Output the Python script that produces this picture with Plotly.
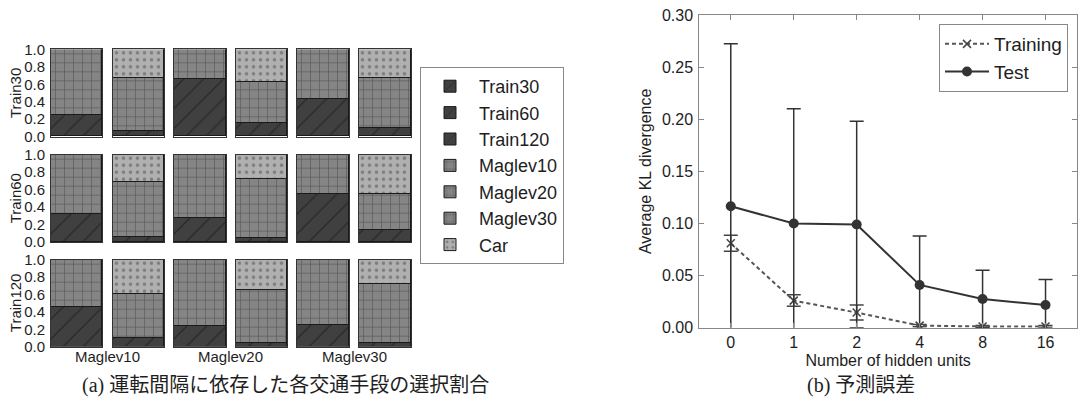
import plotly.graph_objects as go

# ---------------- data: panel (a) ----------------
rows = ["Train30", "Train60", "Train120"]
maglevs = ["Maglev10", "Maglev20", "Maglev30"]

# columns without car: train share / maglev share  (rows x maglev)
train_nocar = [[0.244, 0.66, 0.427],
               [0.32, 0.28, 0.55],
               [0.464, 0.24, 0.257]]
maglev_nocar = [[0.756, 0.34, 0.573],
                [0.68, 0.72, 0.45],
                [0.536, 0.76, 0.743]]
# columns with car: train / maglev / car shares
train_car = [[0.065, 0.156, 0.095],
             [0.065, 0.053, 0.137],
             [0.10, 0.042, 0.042]]
maglev_car = [[0.603, 0.464, 0.573],
              [0.63, 0.667, 0.42],
              [0.51, 0.618, 0.686]]
car_car = [[0.332, 0.38, 0.332],
           [0.305, 0.28, 0.443],
           [0.39, 0.34, 0.272]]
share_ticks = [0.0, 0.2, 0.4, 0.6, 0.8, 1.0]

# ---------------- data: panel (b) ----------------
hidden_units = ["0", "1", "2", "4", "8", "16"]
train_mean = [0.081, 0.026, 0.0145, 0.002, 0.0012, 0.0012]
train_err = [0.0077, 0.0055, 0.0072, 0.001, 0.0008, 0.001]
test_mean = [0.1165, 0.100, 0.099, 0.041, 0.0275, 0.0218]
test_err = [0.156, 0.110, 0.099, 0.047, 0.0275, 0.0245]
kl_ticks = [0.0, 0.05, 0.10, 0.15, 0.20, 0.25, 0.30]

# ---------------- layout geometry ----------------
W, H = 1081, 403
col_px = [(51, 102), (113, 164), (174, 226), (236, 287), (297, 349), (359, 411)]
row_px = [(49.3, 136.7), (154.7, 242.0), (259.7, 346.7)]

SANS = "Liberation Sans, Arial, sans-serif"
SERIF = "Liberation Serif, Noto Sans CJK JP, serif"
DARK = "#404040"
MID = "#858585"
LIGHT = "#b0b0b0"
EDGE = "#1a1a1a"
TXT = "#1e1e1e"

fig = go.Figure()
layout = {}


def xd(a, b):
    return [a / W, b / W]


def yd(top, bot):
    return [1 - bot / H, 1 - top / H]


train_pat = dict(shape="/", fgcolor="#111111", size=14, solidity=0.09, fillmode="overlay")
mag_pat = dict(shape="+", fgcolor="#2a2a2a", size=9, solidity=0.14, fillmode="overlay")
car_pat = dict(shape=".", fgcolor="#4a4a4a", size=7, solidity=0.2, fillmode="overlay")

legend_shown = set()
rank = {"Train30": 1, "Train60": 2, "Train120": 3, "Maglev10": 4, "Maglev20": 5,
        "Maglev30": 6, "Car": 7}

idx = 0
for r, rname in enumerate(rows):
    for c in range(6):
        idx += 1
        sfx = "" if idx == 1 else str(idx)
        m = c // 2
        with_car = (c % 2 == 1)
        if with_car:
            parts = [(rname, train_car[r][m], DARK, train_pat),
                     (maglevs[m], maglev_car[r][m], MID, mag_pat),
                     ("Car", car_car[r][m], LIGHT, car_pat)]
        else:
            parts = [(rname, train_nocar[r][m], DARK, train_pat),
                     (maglevs[m], maglev_nocar[r][m], MID, mag_pat)]
        for name, val, col, pat in parts:
            show = name not in legend_shown
            legend_shown.add(name)
            fig.add_trace(go.Bar(
                x=[0], y=[val], width=[1.0], name=name,
                marker=dict(color=col, pattern=pat, line=dict(color=EDGE, width=1)),
                xaxis="x" + sfx, yaxis="y" + sfx, showlegend=show,
                legendrank=rank[name], legend="legend", hoverinfo="skip"))
        layout["xaxis" + sfx] = dict(
            domain=xd(*col_px[c]), range=[-0.5, 0.5], showticklabels=False,
            ticks="", showgrid=False, zeroline=False, showline=True, mirror=True,
            linecolor="#333333", linewidth=1, anchor="y" + sfx, fixedrange=True,
            automargin=False)
        layout["yaxis" + sfx] = dict(
            domain=yd(*row_px[r]), range=[0, 1], showgrid=False, zeroline=False,
            showline=True, mirror=True, linecolor="#333333", linewidth=1,
            anchor="x" + sfx, ticks="", tickvals=share_ticks,
            ticktext=[f"{v:.1f}" for v in share_ticks],
            showticklabels=(c == 0), tickfont=dict(family=SANS, size=15, color=TXT),
            ticklabelstandoff=2, fixedrange=True, automargin=False)

# ---------------- panel (b) ----------------
idx += 1
sfx = str(idx)
fig.add_trace(go.Scatter(
    x=hidden_units, y=train_mean, name="Training", mode="lines+markers",
    line=dict(color="#555555", width=2, dash="4px,3px"),
    marker=dict(symbol="x-thin", size=8, color="#444444",
                line=dict(color="#444444", width=1.5)),
    error_y=dict(type="data", array=train_err, visible=True, color="#444444",
                 thickness=1.5, width=7),
    xaxis="x" + sfx, yaxis="y" + sfx, legend="legend2"))
fig.add_trace(go.Scatter(
    x=hidden_units, y=test_mean, name="Test", mode="lines+markers",
    line=dict(color="#333333", width=2),
    marker=dict(symbol="circle", size=10, color="#333333"),
    error_y=dict(type="data", array=test_err, visible=True, color="#333333",
                 thickness=1.5, width=7),
    xaxis="x" + sfx, yaxis="y" + sfx, legend="legend2"))

layout["xaxis" + sfx] = dict(
    domain=xd(699.3, 1077), range=[-0.5, 5.5], type="category",
    showgrid=False, zeroline=False, showline=True, mirror="ticks",
    linecolor="#888888", linewidth=1, ticks="inside", ticklen=5, tickcolor="#888888",
    tickfont=dict(family=SANS, size=16, color=TXT), anchor="y" + sfx, automargin=False,
    title=dict(text="Number of hidden units", font=dict(family=SANS, size=16, color=TXT),
               standoff=4))
layout["yaxis" + sfx] = dict(
    domain=yd(15, 327.7), range=[0, 0.30], tickvals=kl_ticks,
    ticktext=[f"{v:.2f}" for v in kl_ticks],
    showgrid=False, zeroline=False, showline=True, mirror="ticks",
    linecolor="#888888", linewidth=1, ticks="inside", ticklen=5, tickcolor="#888888",
    tickfont=dict(family=SANS, size=16, color=TXT), anchor="x" + sfx,
    ticklabelstandoff=2, automargin=False,
    title=dict(text="Average KL divergence", font=dict(family=SANS, size=16, color=TXT),
               standoff=6))

annotations = []
for r, rname in enumerate(rows):
    annotations.append(dict(
        x=15 / W, y=1 - (row_px[r][0] + row_px[r][1]) / 2 / H, xref="paper", yref="paper",
        text=rname, textangle=-90, showarrow=False, xanchor="center", yanchor="middle",
        font=dict(family=SANS, size=15, color=TXT)))
for m, mname in enumerate(maglevs):
    cx = (col_px[2 * m][0] + col_px[2 * m + 1][1]) / 2
    annotations.append(dict(
        x=cx / W, y=1 - 356 / H, xref="paper", yref="paper", text=mname,
        showarrow=False, xanchor="center", yanchor="middle",
        font=dict(family=SANS, size=15, color=TXT)))
annotations.append(dict(
    x=285 / W, y=1 - 385 / H, xref="paper", yref="paper",
    text="(a) 運転間隔に依存した各交通手段の選択割合", showarrow=False,
    xanchor="center", yanchor="middle", font=dict(family=SERIF, size=20, color=TXT)))
annotations.append(dict(
    x=861 / W, y=1 - 385 / H, xref="paper", yref="paper",
    text="(b) 予測誤差", showarrow=False,
    xanchor="center", yanchor="middle", font=dict(family=SERIF, size=20, color=TXT)))

fig.update_layout(
    **layout,
    template="none",
    width=W, height=H, autosize=False,
    margin=dict(l=0, r=0, t=0, b=0, pad=0, autoexpand=False),
    paper_bgcolor="white", plot_bgcolor="white",
    barmode="stack", bargap=0,
    annotations=annotations,
    legend=dict(x=420 / W, y=1 - 67 / H, xanchor="left", yanchor="top",
                bgcolor="white", bordercolor="#888888", borderwidth=1, itemwidth=48,
                font=dict(family=SANS, size=18, color=TXT), traceorder="normal"),
    legend2=dict(x=1068 / W, y=1 - 24 / H, xanchor="right", yanchor="top",
                 bgcolor="white", bordercolor="#888888", borderwidth=1, itemwidth=44,
                 font=dict(family=SANS, size=19, color=TXT)),
    font=dict(family=SANS),
)

fig.write_html("out.html", post_script="document.body.style.margin='0';",
               config={"displayModeBar": False})
